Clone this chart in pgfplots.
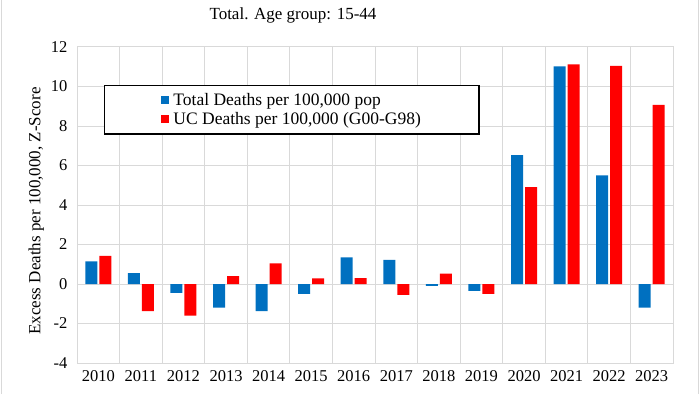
\documentclass[border=0pt]{standalone}
\usepackage{fontspec}
\setmainfont{Liberation Serif}
\usepackage{pgfplots}
\pgfplotsset{compat=1.18}
\definecolor{xblue}{HTML}{0070C0}
\definecolor{xred}{HTML}{FF0000}
\definecolor{gridgray}{HTML}{D9D9D9}
\begin{document}
\begin{tikzpicture}
\useasboundingbox (0,0) rectangle (700pt,394pt);
\draw[gridgray, line width=1pt] (1pt,0) -- (1pt,394pt);
\draw[gridgray, line width=1pt] (698pt,0) -- (698pt,394pt);
\node[anchor=north, inner sep=0pt, font=\fontsize{17}{19}\selectfont] at (293pt,386pt) {Total. Age group: 15-44};
\begin{axis}[
  at={(77pt,31pt)}, anchor=south west,
  scale only axis, width=596pt, height=316pt,
  ybar, bar width=12pt,
  xmin=-0.5, xmax=13.5, ymin=-4, ymax=12,
  xtick={0,...,13},
  xticklabels={2010,2011,2012,2013,2014,2015,2016,2017,2018,2019,2020,2021,2022,2023},
  minor xtick={-0.5,0.5,...,13.5},
  xminorgrids, ymajorgrids,
  ytick={-4,-2,...,12},
  minor grid style={gridgray, line width=1pt},
  major grid style={gridgray, line width=1pt},
  axis line style={gridgray, line width=1pt},
  major tick length=0pt, minor tick length=0pt,
  tick label style={font=\fontsize{16.5}{18}\selectfont},
  /pgf/number format/assume math mode=true,
  yticklabel style={xshift=-6pt},
  xticklabel style={yshift=-4pt},
  ylabel={Excess Deaths per 100,000, Z-Score},
  every axis y label/.style={at={(ticklabel cs:0.5)}, rotate=90, anchor=south, xshift=-6pt, font=\fontsize{17}{19}\selectfont},
  legend style={at={(0.045,0.88)}, anchor=north west, draw=black, line width=1.5pt,
    inner xsep=56pt, inner ysep=6pt, font=\fontsize{17.5}{18}\selectfont, row sep=1pt},
  legend cell align=left,
  legend image code/.code={\fill[#1, draw=none] (0pt,-4pt) rectangle (8pt,4pt);},
]
\addplot[fill=xblue, draw=none] coordinates {(0,1.15) (1,0.55) (2,-0.45) (3,-1.2) (4,-1.37) (5,-0.5) (6,1.35) (7,1.22) (8,-0.1) (9,-0.35) (10,6.52) (11,11.02) (12,5.5) (13,-1.2)};
\addplot[fill=xred, draw=none] coordinates {(0,1.42) (1,-1.37) (2,-1.6) (3,0.4) (4,1.05) (5,0.28) (6,0.3) (7,-0.55) (8,0.52) (9,-0.5) (10,4.9) (11,11.12) (12,11.05) (13,9.07)};
\legend{{\,Total Deaths per 100,000 pop}, {\,UC Deaths per 100,000 (G00-G98)}}
\end{axis}
\end{tikzpicture}
\end{document}
